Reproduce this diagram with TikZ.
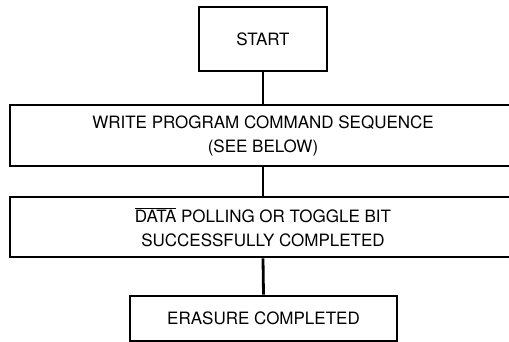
\documentclass[tikz,border=0pt]{standalone}
\usepackage{fontspec}
\setmainfont{TeX Gyre Heros}
\begin{document}
\begin{tikzpicture}[x=1pt,y=-1pt,
  flowbox/.style={draw=black, line width=2.8pt, rectangle, align=center,
    inner sep=0pt, font=\fontsize{17}{24}\selectfont},
  link/.style={draw=black, line width=2.8pt}]
\useasboundingbox (0,0) rectangle (509,342);
\node[flowbox, minimum width=128pt, minimum height=64pt] (start) at (263,39) {START};
\node[flowbox, minimum width=506pt, minimum height=61pt] (write) at (263,135.5) {WRITE PROGRAM COMMAND SEQUENCE\\(SEE BELOW)};
\node[flowbox, minimum width=506pt, minimum height=60pt] (poll) at (263,227) {$\overline{\mbox{DATA}}$ POLLING OR TOGGLE BIT\\SUCCESSFULLY COMPLETED};
\node[flowbox, minimum width=267pt, minimum height=45pt] (done) at (263.5,318.5) {ERASURE COMPLETED};
\draw[link] (start.south) -- (write.north);
\draw[link] (write.south) -- (poll.north);
\draw[link] (poll.south) -- (done.north);
\end{tikzpicture}
\end{document}
